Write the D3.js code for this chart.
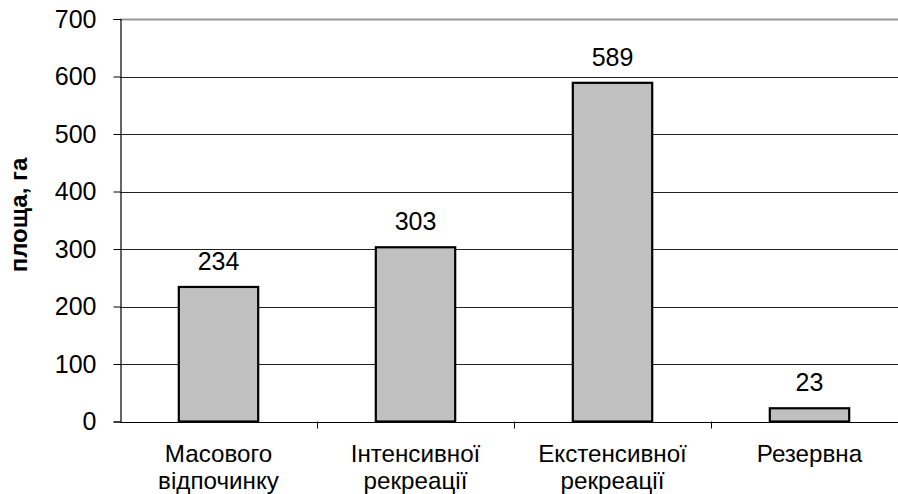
<!DOCTYPE html>
<html>
<head>
<meta charset="utf-8">
<script src="https://cdn.jsdelivr.net/npm/d3@7"></script>
<style>
  html, body { margin: 0; padding: 0; background: #fff; }
  svg { display: block; }
  text { font-family: Arial, "Liberation Sans", sans-serif; fill: #000; }
</style>
</head>
<body>
<svg id="chart" width="898" height="494"></svg>
<script>
// Areas of recreational zones, ha
const categories = [
  ["Масового", "відпочинку"],
  ["Інтенсивної", "рекреації"],
  ["Екстенсивної", "рекреації"],
  ["Резервна"]
];
const values = [234, 303, 589, 23];
const yTicks = [0, 100, 200, 300, 400, 500, 600, 700];
const yTitle = "площа, га";

const svg = d3.select("#chart");
const margin = { left: 120, top: 19 };
const bandW = 197;
const plotH = 402.5;
const numSize = 25;
const catSize = 24.2;

const x = d3.scaleBand()
  .domain(d3.range(categories.length))
  .range([margin.left, margin.left + bandW * categories.length])
  .paddingInner(0.597)
  .paddingOuter(0.2985);

const y = d3.scaleLinear()
  .domain([0, 700])
  .range([margin.top + plotH, margin.top]);

// Horizontal gridlines (the top one is the plot-area border, drawn grey)
svg.append("g")
  .selectAll("line")
  .data(yTicks)
  .join("line")
  .attr("x1", margin.left)
  .attr("x2", 898)
  .attr("y1", d => Math.round(y(d)) + 0.5)
  .attr("y2", d => Math.round(y(d)) + 0.5)
  .attr("stroke", d => d === 700 ? "#999" : "#222")
  .attr("stroke-width", d => d === 700 ? 2 : 1);

// Bars
svg.append("g")
  .selectAll("rect")
  .data(values)
  .join("rect")
  .attr("x", (d, i) => x(i))
  .attr("y", d => y(d))
  .attr("width", x.bandwidth())
  .attr("height", d => y(0) - y(d))
  .attr("fill", "#c0c0c0")
  .attr("stroke", "#000")
  .attr("stroke-width", 2.2);

// Value labels
svg.append("g")
  .selectAll("text")
  .data(values)
  .join("text")
  .attr("x", (d, i) => x(i) + x.bandwidth() / 2)
  .attr("y", d => y(d) - 17)
  .attr("text-anchor", "middle")
  .attr("font-size", numSize)
  .text(d => d);

// Y axis
const yAxis = d3.axisLeft(y).tickValues(yTicks).tickSize(7).tickPadding(17);
const gy = svg.append("g")
  .attr("transform", `translate(${margin.left + 0.5},0)`)
  .call(yAxis);
gy.select(".domain").attr("stroke", "#000").attr("stroke-width", 1.2);
gy.selectAll(".tick line").attr("stroke", "#000");
gy.selectAll(".tick text")
  .attr("font-size", numSize)
  .attr("font-family", "Arial, 'Liberation Sans', sans-serif")
  .attr("fill", "#000");

// X axis: baseline with ticks between categories
const xBounds = d3.range(1, categories.length).map(i => margin.left + bandW * i);
const gx = svg.append("g");
gx.append("line")
  .attr("x1", margin.left).attr("x2", 898)
  .attr("y1", Math.round(y(0)) + 0.5).attr("y2", Math.round(y(0)) + 0.5)
  .attr("stroke", "#000").attr("stroke-width", 1.2);
gx.selectAll("line.tk")
  .data(xBounds)
  .join("line")
  .attr("class", "tk")
  .attr("x1", d => d + 0.5).attr("x2", d => d + 0.5)
  .attr("y1", y(0)).attr("y2", y(0) + 7)
  .attr("stroke", "#000");

// Category labels
const cat = svg.append("g")
  .selectAll("text")
  .data(categories)
  .join("text")
  .attr("x", (d, i) => x(i) + x.bandwidth() / 2)
  .attr("y", 461.5)
  .attr("text-anchor", "middle")
  .attr("font-size", catSize);
cat.selectAll("tspan")
  .data(d => d)
  .join("tspan")
  .attr("x", function () { return this.parentNode.getAttribute("x"); })
  .attr("dy", (d, i) => i === 0 ? 0 : 27)
  .text(d => d);

// Y axis title
svg.append("text")
  .attr("transform", "translate(27,215) rotate(-90)")
  .attr("text-anchor", "middle")
  .attr("font-size", 24)
  .attr("font-weight", "bold")
  .text(yTitle);
</script>
</body>
</html>
